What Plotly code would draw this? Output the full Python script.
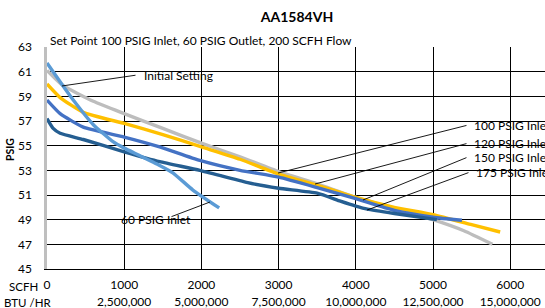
import plotly.graph_objects as go

W, H = 545, 308
L, R, T, B = 47, 0, 47, 39
FONT = "Lato"

# ---- data ----
x_ticks = [0, 1000, 2000, 3000, 4000, 5000, 6000]
scfh_labels = ["0", "1000", "2000", "3000", "4000", "5000", "6000"]
btu_labels = ["", "2,500,000", "5,000,000", "7,500,000", "10,000,000", "12,500,000", "15,000,000"]
y_ticks = [45, 47, 49, 51, 53, 55, 57, 59, 61, 63]

initial_x = [0, 200, 600, 1000, 1500, 2000, 2500, 3000, 3500, 4000, 4500, 5000, 5400, 5770]
initial_y = [61.1, 59.9, 58.6, 57.6, 56.4, 55.2, 54.1, 52.9, 51.9, 50.8, 49.9, 49.0, 48.1, 47.0]

yellow_x = [0, 170, 470, 1000, 1500, 2000, 2500, 3000, 3500, 4000, 4500, 5000, 5500, 5870]
yellow_y = [60.0, 58.9, 57.7, 56.8, 55.9, 54.9, 53.9, 52.7, 51.8, 50.8, 50.0, 49.4, 48.6, 48.0]

medblue_x = [0, 170, 470, 1000, 1460, 1980, 2500, 3000, 3500, 4000, 4500, 5000, 5375]
medblue_y = [58.7, 57.6, 56.5, 55.7, 54.9, 53.8, 53.0, 52.45, 51.6, 50.7, 49.75, 49.2, 48.95]

darkblue_x = [0, 80, 170, 470, 1000, 1460, 1980, 2600, 3000, 3500, 3800, 4000, 4150, 4500, 5050]
darkblue_y = [57.2, 56.4, 56.0, 55.5, 54.5, 53.7, 53.0, 52.0, 51.55, 51.15, 50.5, 50.1, 49.85, 49.5, 49.0]

inlet60_x = [0, 190, 340, 600, 860, 1000, 1200, 1460, 1630, 1890, 2230]
inlet60_y = [61.7, 60.0, 58.7, 56.7, 55.3, 54.8, 54.2, 53.4, 52.8, 51.4, 49.95]

# leader labels: text, text anchor point (x, y), curve point (x, y)
label_text = ["Initial Setting", "60 PSIG Inlet", "100 PSIG Inlet", "120 PSIG Inlet", "150 PSIG Inlet", "175 PSIG Inlet"]
label_pos_x = [1230, 1412, 5505, 5505, 5505, 5530]
label_pos_y = [60.65, 49.0, 56.67, 55.2, 54.08, 52.86]
leader_from_x = [1166, 1593, 5453, 5453, 5453, 5479]
leader_from_y = [60.73, 49.2, 56.67, 55.2, 54.08, 52.86]
leader_to_x = [194, 2111, 2992, 3472, 4093, 4145]
leader_to_y = [59.84, 50.43, 52.78, 51.89, 50.59, 49.78]
label_anchor = ["left", "center", "left", "left", "left", "left"]

XMAX = (W - L - R) / 77.2 * 1000

fig = go.Figure()
series = [
    (initial_x, initial_y, "#BDBDBD", "Initial Setting"),
    (yellow_x, yellow_y, "#FFC000", "100 PSIG Inlet"),
    (medblue_x, medblue_y, "#4472C4", "120/150 PSIG Inlet"),
    (darkblue_x, darkblue_y, "#255E91", "175 PSIG Inlet"),
    (inlet60_x, inlet60_y, "#5B9BD5", "60 PSIG Inlet"),
]
for xs, ys, col, nm in series:
    fig.add_trace(go.Scatter(x=xs, y=ys, mode="lines", name=nm,
                             line=dict(color=col, width=3.4, shape="spline", smoothing=0.5),
                             showlegend=False, hoverinfo="skip"))
# invisible trace for second x axis
fig.add_trace(go.Scatter(x=[0], y=[45], xaxis="x2", mode="markers",
                         marker=dict(opacity=0), showlegend=False, hoverinfo="skip"))

for i in range(len(label_text)):
    fig.add_annotation(x=leader_to_x[i], y=leader_to_y[i], ax=leader_from_x[i], ay=leader_from_y[i],
                       axref="x", ayref="y", xref="x", yref="y", text="", showarrow=True,
                       arrowhead=0, arrowwidth=0.9, arrowcolor="black", standoff=0, startstandoff=0)
    fig.add_annotation(x=label_pos_x[i], y=label_pos_y[i], xref="x", yref="y", text=label_text[i],
                       showarrow=False, xanchor=label_anchor[i], yanchor="middle",
                       font=dict(family=FONT, size=12, color="black"))

def px(xp):
    return (xp - L) / (W - L - R)

def py(yp):
    return (H - B - yp) / (H - T - B)

fig.add_annotation(x=px(48), y=py(40), xref="paper", yref="paper", text="Set Point 100 PSIG Inlet, 60 PSIG Outlet, 200 SCFH Flow",
                   showarrow=False, xanchor="left", yanchor="middle", font=dict(family=FONT, size=12, color="black"))
fig.add_annotation(x=px(40), y=py(286), xref="paper", yref="paper", text="SCFH", showarrow=False,
                   xanchor="right", yanchor="middle", font=dict(family=FONT, size=11.5, color="black"))
fig.add_annotation(x=px(53), y=py(302), xref="paper", yref="paper", text="BTU /HR", showarrow=False,
                   xanchor="right", yanchor="middle", font=dict(family=FONT, size=11.5, color="black"))
fig.add_annotation(x=px(10), y=py(150), xref="paper", yref="paper", text="<b>PSIG</b>", showarrow=False,
                   textangle=-90, xanchor="center", yanchor="middle", font=dict(family=FONT, size=10.5, color="black"))

fig.update_layout(
    width=W, height=H, margin=dict(l=L, r=R, t=T, b=B),
    paper_bgcolor="white", plot_bgcolor="white",
    title=dict(text="<b>AA1584VH</b>", x=297 / W, xanchor="center", y=1 - 17 / H, yanchor="middle",
               font=dict(family=FONT, size=14, color="black")),
    font=dict(family=FONT, size=12, color="black"),
    xaxis=dict(range=[0, XMAX], tickvals=x_ticks, ticktext=scfh_labels, showgrid=True, gridcolor="black",
               gridwidth=1.3, zeroline=False, showline=True, linecolor="black", linewidth=1.3,
               ticks="", ticklabelstandoff=4, tickfont=dict(family=FONT, size=12)),
    xaxis2=dict(range=[0, XMAX], matches="x", overlaying="x", anchor="y", side="bottom",
                tickvals=x_ticks, ticktext=btu_labels, showgrid=False, zeroline=False, showline=False,
                ticks="", ticklabelstandoff=24, tickfont=dict(family=FONT, size=12)),
    yaxis=dict(range=[45, 63], tickvals=y_ticks, showgrid=True, gridcolor="black", gridwidth=1.3,
               zeroline=False, showline=True, linecolor="#BFBFBF", linewidth=2.5, ticks="",
               ticklabelstandoff=10, tickfont=dict(family=FONT, size=12)),
)
fig.write_html("out.html", config={"displayModeBar": False},
               post_script="document.body.style.margin='0';document.body.style.overflow='hidden';")
